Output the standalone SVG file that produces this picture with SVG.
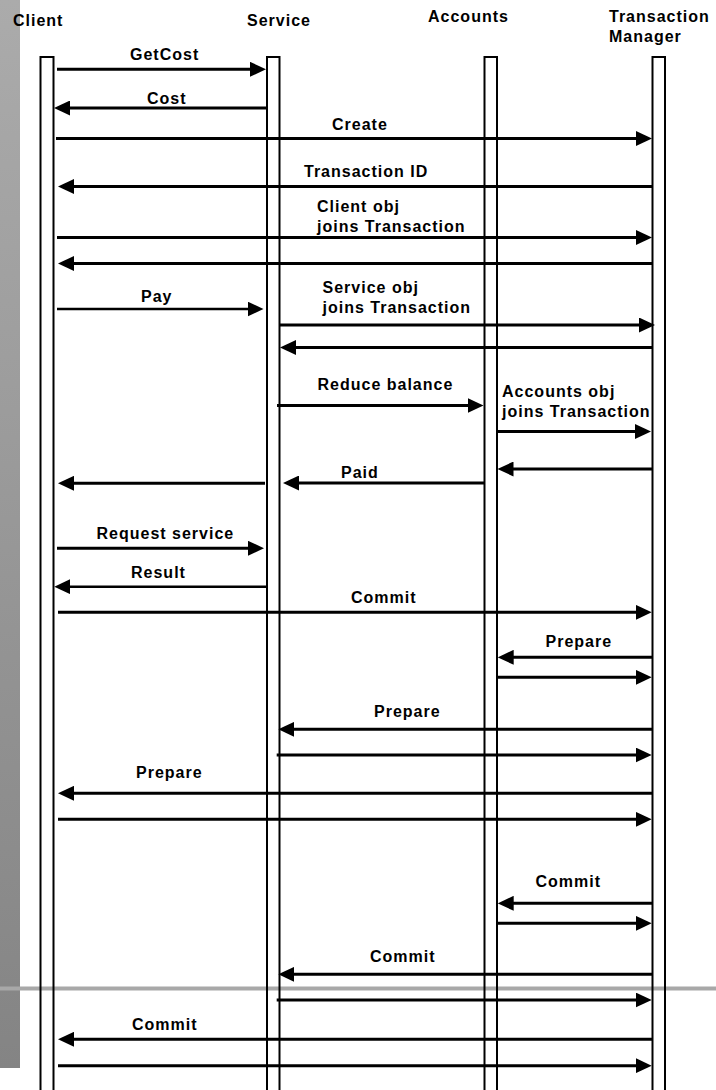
<svg xmlns="http://www.w3.org/2000/svg" width="716" height="1090" viewBox="0 0 716 1090">
<style>
.t{font-family:"Liberation Sans",Arial,sans-serif;font-weight:bold;font-size:16px;letter-spacing:1px;fill:#000}
.life{fill:none;stroke:#000;stroke-width:2}
.m{stroke:#000;stroke-width:3;fill:none}
.mt{stroke:#000;stroke-width:2.5;fill:none}
</style>
<defs>
<linearGradient id="bar" x1="0" y1="0" x2="0" y2="1">
<stop offset="0" stop-color="#ababab"/>
<stop offset="1" stop-color="#848484"/>
</linearGradient>
<marker id="ah" markerUnits="userSpaceOnUse" markerWidth="16" markerHeight="15" refX="8" refY="7.5" orient="auto">
<path d="M0,0 L16,7.5 L0,15 Z" fill="#000"/>
</marker>
</defs>
<rect x="0" y="0" width="716" height="1090" fill="#fff"/>
<rect id="sidebar" x="0" y="0" width="20" height="1068" fill="url(#bar)"/>
<rect id="divider" x="0" y="986.5" width="716" height="4" fill="#a8a8a8"/>
<g id="client">
<rect class="life" x="40.5" y="57" width="13" height="1040"/>
<text class="t" x="13" y="26">Client</text>
</g>
<g id="service">
<rect class="life" x="267" y="57" width="12.5" height="1040"/>
<text class="t" x="247" y="26">Service</text>
</g>
<g id="accounts">
<rect class="life" x="484.5" y="57" width="12.5" height="1040"/>
<text class="t" x="428" y="22">Accounts</text>
</g>
<g id="tm">
<rect class="life" x="652.5" y="57" width="12.5" height="1040"/>
<text class="t" x="609" y="22">Transaction</text>
<text class="t" x="609" y="42">Manager</text>
</g>
<g id="connectors">
<path class="m" d="M57,69.3 H258" marker-end="url(#ah)"/>
<path class="m" d="M266,108 H62" marker-end="url(#ah)"/>
<path class="m" d="M56,138.5 H644" marker-end="url(#ah)"/>
<path class="m" d="M652,186.5 H66" marker-end="url(#ah)"/>
<path class="m" d="M57,237.5 H644" marker-end="url(#ah)"/>
<path class="m" d="M652,263.5 H66" marker-end="url(#ah)"/>
<path class="mt" d="M57,309 H255.5" marker-end="url(#ah)"/>
<path class="m" d="M280,325 H647" marker-end="url(#ah)"/>
<path class="m" d="M652,347.5 H288" marker-end="url(#ah)"/>
<path class="m" d="M277,405.5 H475.5" marker-end="url(#ah)"/>
<path class="m" d="M497,431.5 H643" marker-end="url(#ah)"/>
<path class="m" d="M652,469 H505.5" marker-end="url(#ah)"/>
<path class="m" d="M484,483 H291" marker-end="url(#ah)"/>
<path class="m" d="M265,483.3 H66" marker-end="url(#ah)"/>
<path class="m" d="M57,548.3 H256" marker-end="url(#ah)"/>
<path class="mt" d="M266.7,586.7 H62.3" marker-end="url(#ah)"/>
<path class="m" d="M58,612.3 H643.7" marker-end="url(#ah)"/>
<path class="m" d="M652,657.3 H505.7" marker-end="url(#ah)"/>
<path class="m" d="M497,677.3 H643.7" marker-end="url(#ah)"/>
<path class="m" d="M652,729.3 H286.3" marker-end="url(#ah)"/>
<path class="m" d="M276.7,755 H643.7" marker-end="url(#ah)"/>
<path class="m" d="M652,793.3 H66" marker-end="url(#ah)"/>
<path class="m" d="M58,819.3 H643.7" marker-end="url(#ah)"/>
<path class="m" d="M652,903.3 H505.7" marker-end="url(#ah)"/>
<path class="m" d="M497,923.3 H643.7" marker-end="url(#ah)"/>
<path class="m" d="M652,974.3 H286.3" marker-end="url(#ah)"/>
<path class="m" d="M276.7,1000 H643.7" marker-end="url(#ah)"/>
<path class="m" d="M652,1039.3 H66" marker-end="url(#ah)"/>
<path class="m" d="M58,1065.7 H643.7" marker-end="url(#ah)"/>
</g>
<g id="labels">
<text class="t" x="130" y="60">GetCost</text>
<text class="t" x="147" y="104">Cost</text>
<text class="t" x="332" y="130">Create</text>
<text class="t" x="304" y="176.5">Transaction ID</text>
<text class="t" x="317" y="211.5">Client obj</text>
<text class="t" x="317" y="231.5">joins Transaction</text>
<text class="t" x="141" y="301.5">Pay</text>
<text class="t" x="322.5" y="292.5">Service obj</text>
<text class="t" x="322.5" y="313">joins Transaction</text>
<text class="t" x="317.5" y="390">Reduce balance</text>
<text class="t" x="502" y="397">Accounts obj</text>
<text class="t" x="502" y="417">joins Transaction</text>
<text class="t" x="341" y="478">Paid</text>
<text class="t" x="96.5" y="539">Request service</text>
<text class="t" x="131" y="577.5">Result</text>
<text class="t" x="351" y="603">Commit</text>
<text class="t" x="545.5" y="646.5">Prepare</text>
<text class="t" x="374" y="716.5">Prepare</text>
<text class="t" x="136" y="778">Prepare</text>
<text class="t" x="535.5" y="887">Commit</text>
<text class="t" x="370" y="961.5">Commit</text>
<text class="t" x="132" y="1030">Commit</text>
</g>
</svg>
